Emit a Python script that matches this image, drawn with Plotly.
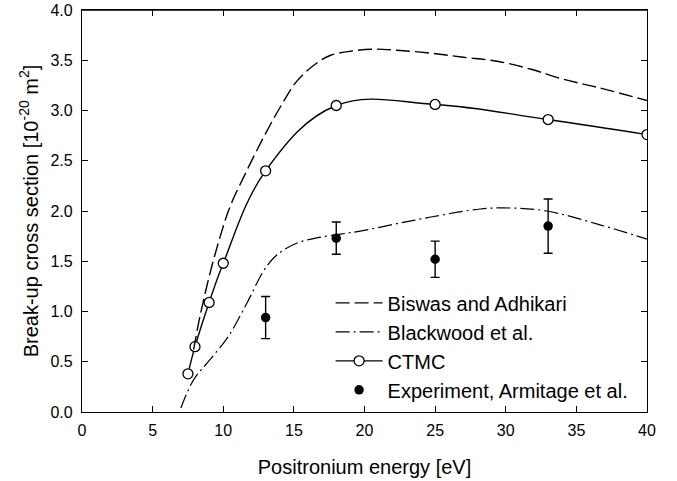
import plotly.graph_objects as go

# Biswas and Adhikari (dashed)
bis_x = [7.9, 8.35, 9.06, 9.77, 10.47, 11.66, 12.84, 14.02, 15.2, 16.6, 17.6, 19.0, 20.5, 22.3, 24.7, 27.0, 29.4, 31.8, 34.1, 36.5, 40.0]
bis_y = [0.62, 0.95, 1.38, 1.74, 2.04, 2.40, 2.73, 3.03, 3.29, 3.47, 3.55, 3.59, 3.61, 3.60, 3.57, 3.53, 3.49, 3.41, 3.31, 3.23, 3.10]

# Blackwood et al. (dash-dot)
bla_x = [7.0, 7.9, 9.06, 10.35, 11.66, 12.84, 13.55, 14.26, 15.3, 16.7, 18.3, 19.7, 22.5, 24.7, 28.2, 30.3, 32.9, 36.5, 40.0]
bla_y = [0.04, 0.32, 0.52, 0.75, 1.08, 1.40, 1.53, 1.61, 1.685, 1.735, 1.77, 1.80, 1.88, 1.94, 2.02, 2.03, 2.00, 1.87, 1.72]

# CTMC
ctmc_x = [7.5, 8, 9, 10, 13, 18, 25, 33, 40]
ctmc_y = [0.38, 0.65, 1.09, 1.48, 2.40, 3.05, 3.06, 2.91, 2.76]

# Experiment, Armitage et al.
exp_x = [13, 18, 25, 33]
exp_y = [0.94, 1.73, 1.52, 1.85]
exp_plus = [0.21, 0.16, 0.18, 0.27]
exp_minus = [0.21, 0.16, 0.18, 0.27]

x_ticks = [0, 5, 10, 15, 20, 25, 30, 35, 40]
y_ticks = [0.0, 0.5, 1.0, 1.5, 2.0, 2.5, 3.0, 3.5, 4.0]

FONT = "Liberation Sans, Arial, Helvetica, sans-serif"

fig = go.Figure()
fig.add_trace(go.Scatter(
    x=bis_x, y=bis_y, mode="lines", name="Biswas and Adhikari",
    xaxis="x2",
    line=dict(color="black", width=1.4, dash="14px,5px", shape="spline", smoothing=1.0),
))
fig.add_trace(go.Scatter(
    x=bla_x, y=bla_y, mode="lines", name="Blackwood et al.",
    line=dict(color="black", width=1.2, dash="14px,4px,2px,4px", shape="spline", smoothing=1.0),
))
fig.add_trace(go.Scatter(
    x=ctmc_x, y=ctmc_y, mode="lines+markers", name="CTMC",
    line=dict(color="black", width=1.4, shape="spline", smoothing=1.1),
    marker=dict(symbol="circle", size=10, color="white", line=dict(color="black", width=1.3)),
))
fig.add_trace(go.Scatter(
    x=exp_x, y=exp_y, mode="markers", name="Experiment, Armitage et al.",
    marker=dict(symbol="circle", size=9.5, color="black"),
    error_y=dict(type="data", array=exp_plus, arrayminus=exp_minus, symmetric=False,
                 color="black", thickness=1.4, width=4.5),
))

axis_common = dict(
    showline=True, linecolor="black", linewidth=1.3, mirror="ticks",
    ticks="inside", ticklen=6, tickwidth=1.2, tickcolor="black",
    showgrid=False, zeroline=False, automargin=False,
    tickfont=dict(family=FONT, size=16, color="black"),
)

fig.update_layout(
    width=677, height=481,
    margin=dict(l=82, r=30, t=10, b=69),
    paper_bgcolor="white", plot_bgcolor="white",
    font=dict(family=FONT, color="black"),
    showlegend=True,
    legend=dict(
        x=0.44, y=0.32, xanchor="left", yanchor="top",
        bgcolor="rgba(0,0,0,0)", borderwidth=0,
        font=dict(family=FONT, size=20, color="black"),
        itemwidth=47, traceorder="normal",
    ),
    xaxis=dict(
        range=[0, 40], tickvals=x_ticks, ticktext=[str(v) for v in x_ticks],
        ticklabelstandoff=4,
        title=dict(text="Positronium energy [eV]", font=dict(family=FONT, size=20, color="black"), standoff=21),
        **axis_common,
    ),
    # top frame edge with inward ticks
    xaxis2=dict(
        overlaying="x", side="top", matches="x", range=[0, 40], tickvals=x_ticks,
        showticklabels=False, showline=True, linecolor="black", linewidth=1.3,
        ticks="inside", ticklen=6, tickwidth=1.2, tickcolor="black",
        showgrid=False, zeroline=False, automargin=False,
    ),
    yaxis=dict(
        range=[0, 4], tickvals=y_ticks, ticktext=[f"{v:.1f}" for v in y_ticks],
        ticklabelstandoff=5,
        title=dict(text="Break-up cross section [10<sup>-20</sup> m<sup>2</sup>]",
                   font=dict(family=FONT, size=20, color="black"), standoff=6),
        **axis_common,
    ),
    shapes=[dict(type="line", xref="paper", yref="paper", x0=0, x1=1, y0=1, y1=1,
                 line=dict(color="black", width=1.3), layer="above")],
)

# remove the browser's default 8px body margin so the figure fills the window exactly
fig.write_html("out.html", config={"displayModeBar": False},
               post_script="document.body.style.margin='0';")
